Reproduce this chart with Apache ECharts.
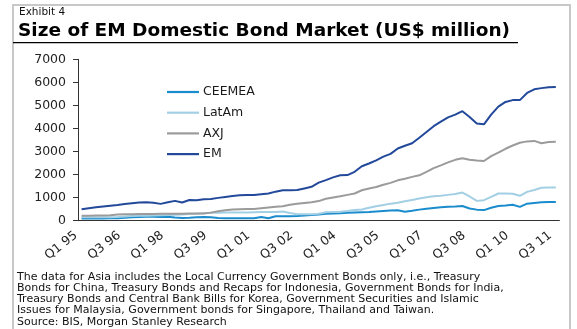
<!DOCTYPE html>
<html><head><meta charset="utf-8">
<script src="https://cdn.jsdelivr.net/npm/echarts@6/dist/echarts.min.js"></script>
<style>html,body{margin:0;padding:0;background:#fff}#c{width:577px;height:329px}</style>
</head><body><div id="c"></div><script>
const quarters = [
"Q1 95","Q2 95","Q3 95","Q4 95","Q1 96","Q2 96","Q3 96","Q4 96","Q1 97","Q2 97","Q3 97","Q4 97",
"Q1 98","Q2 98","Q3 98","Q4 98","Q1 99","Q2 99","Q3 99","Q4 99","Q1 00","Q2 00","Q3 00","Q4 00",
"Q1 01","Q2 01","Q3 01","Q4 01","Q1 02","Q2 02","Q3 02","Q4 02","Q1 03","Q2 03","Q3 03","Q4 03",
"Q1 04","Q2 04","Q3 04","Q4 04","Q1 05","Q2 05","Q3 05","Q4 05","Q1 06","Q2 06","Q3 06","Q4 06",
"Q1 07","Q2 07","Q3 07","Q4 07","Q1 08","Q2 08","Q3 08","Q4 08","Q1 09","Q2 09","Q3 09","Q4 09",
"Q1 10","Q2 10","Q3 10","Q4 10","Q1 11","Q2 11","Q3 11"];

const ceemea = [100,100,100,100,105,110,130,150,165,170,170,165,170,140,120,130,150,160,150,120,
105,105,105,105,110,160,110,190,195,195,200,225,250,270,300,310,320,340,360,370,
380,400,420,440,455,390,430,480,520,550,580,610,620,640,530,480,460,560,640,660,
690,600,740,770,800,810,810];

const latam = [150,150,150,150,155,160,180,200,210,220,230,240,250,260,270,290,300,320,340,350,
360,360,360,360,370,380,380,380,400,330,280,280,285,300,370,380,390,420,460,490,
560,630,680,740,780,840,900,960,1020,1060,1080,1120,1160,1220,1050,860,890,1030,1180,1180,
1170,1080,1250,1330,1430,1440,1440];

const axj = [220,220,225,225,235,270,280,285,290,290,295,300,300,305,305,310,310,315,350,410,
450,490,500,505,510,540,570,600,630,690,740,770,800,850,950,1010,1060,1120,1180,1320,
1400,1460,1560,1640,1750,1820,1900,1970,2120,2280,2400,2530,2640,2710,2640,2610,2590,2800,2950,3120,
3260,3380,3440,3460,3360,3410,3420];

const em = [500,540,580,620,650,680,720,760,790,800,780,730,800,860,790,900,890,930,940,990,
1030,1070,1100,1110,1110,1150,1180,1260,1320,1320,1330,1400,1470,1650,1760,1880,1970,1980,2120,2360,
2480,2620,2780,2900,3130,3250,3360,3600,3850,4100,4300,4480,4600,4750,4500,4220,4180,4600,4950,5150,
5230,5230,5540,5700,5750,5790,5800];

const yTicks = [0,1000,2000,3000,4000,5000,6000,7000];
const seriesNames = ["CEEMEA","LatAm","AXJ","EM"];
const footnote = [
"The data for Asia includes the Local Currency Government Bonds only, i.e., Treasury",
"Bonds for China, Treasury Bonds and Recaps for Indonesia, Government Bonds for India,",
"Treasury Bonds and Central Bank Bills for Korea, Government Securities and Islamic",
"Issues for Malaysia, Government bonds for Singapore, Thailand and Taiwan.",
"Source: BIS, Morgan Stanley Research"];

const FONT = "DejaVu Sans";
const colors = ["#1a8ccd","#a3cfe5","#9b9b9b","#22499a"];
const values = [ceemea, latam, axj, em];

const chart = echarts.init(document.getElementById('c'), null, {renderer:'canvas'});
chart.setOption({
  animation:false,
  backgroundColor:'#fff',
  textStyle:{fontFamily:FONT},
  grid:{left:78,right:17.6,top:59.3,bottom:108.3,containLabel:false},
  legend:{
    orient:'vertical', left:162, top:80,
    itemWidth:32, itemHeight:2.2, icon:'rect', itemGap:6.7,
    textStyle:{fontFamily:FONT,fontSize:12.5,color:'#1a1a1a',lineHeight:14,padding:[0,0,0,-1]},
    data:seriesNames
  },
  xAxis:{
    type:'category', data:quarters, boundaryGap:true,
    axisLine:{lineStyle:{color:'#333',width:1}},
    axisTick:{interval:5,length:5,lineStyle:{color:'#333'}},
    axisLabel:{interval:5,rotate:38,fontFamily:FONT,fontSize:12.5,color:'#222',margin:9,padding:[0,7,0,0]},
    splitLine:{show:false}
  },
  yAxis:{
    type:'value', min:yTicks[0], max:yTicks[yTicks.length-1], interval:1000,
    axisLine:{show:true,lineStyle:{color:'#333',width:1}},
    axisTick:{show:true,length:5,lineStyle:{color:'#333'}},
    axisLabel:{fontFamily:FONT,fontSize:12.5,color:'#222',margin:12,formatter:v=>String(v)},
    splitLine:{show:false}
  },
  series: seriesNames.map((n,k)=>({
    name:n, type:'line', data:values[k], showSymbol:false, symbol:'none',
    color:colors[k], lineStyle:{color:colors[k],width:2}, z:2+k
  })),
  graphic:[
    {type:'rect',silent:true,shape:{x:13,y:5,width:557,height:340},style:{fill:'none',stroke:'#c8c8c8',lineWidth:2}},
    {type:'text',silent:true,x:19,y:12.7,style:{text:'Exhibit 4',font:'10.5px "DejaVu Sans"',fill:'#111',verticalAlign:'middle'}},
    {type:'text',silent:true,x:18,y:31,style:{text:'Size of EM Domestic Bond Market (US$ million)',font:'bold 18.5px "DejaVu Sans"',fill:'#000',verticalAlign:'middle'}},
    {type:'line',silent:true,shape:{x1:13,y1:42.7,x2:518,y2:42.7},style:{stroke:'#000',lineWidth:1.2}},
    {type:'text',silent:true,x:17,y:271,style:{text:footnote.join('\n'),font:'11px "DejaVu Sans"',lineHeight:11.3,fill:'#111',verticalAlign:'top'}}
  ]
});
</script></body></html>
